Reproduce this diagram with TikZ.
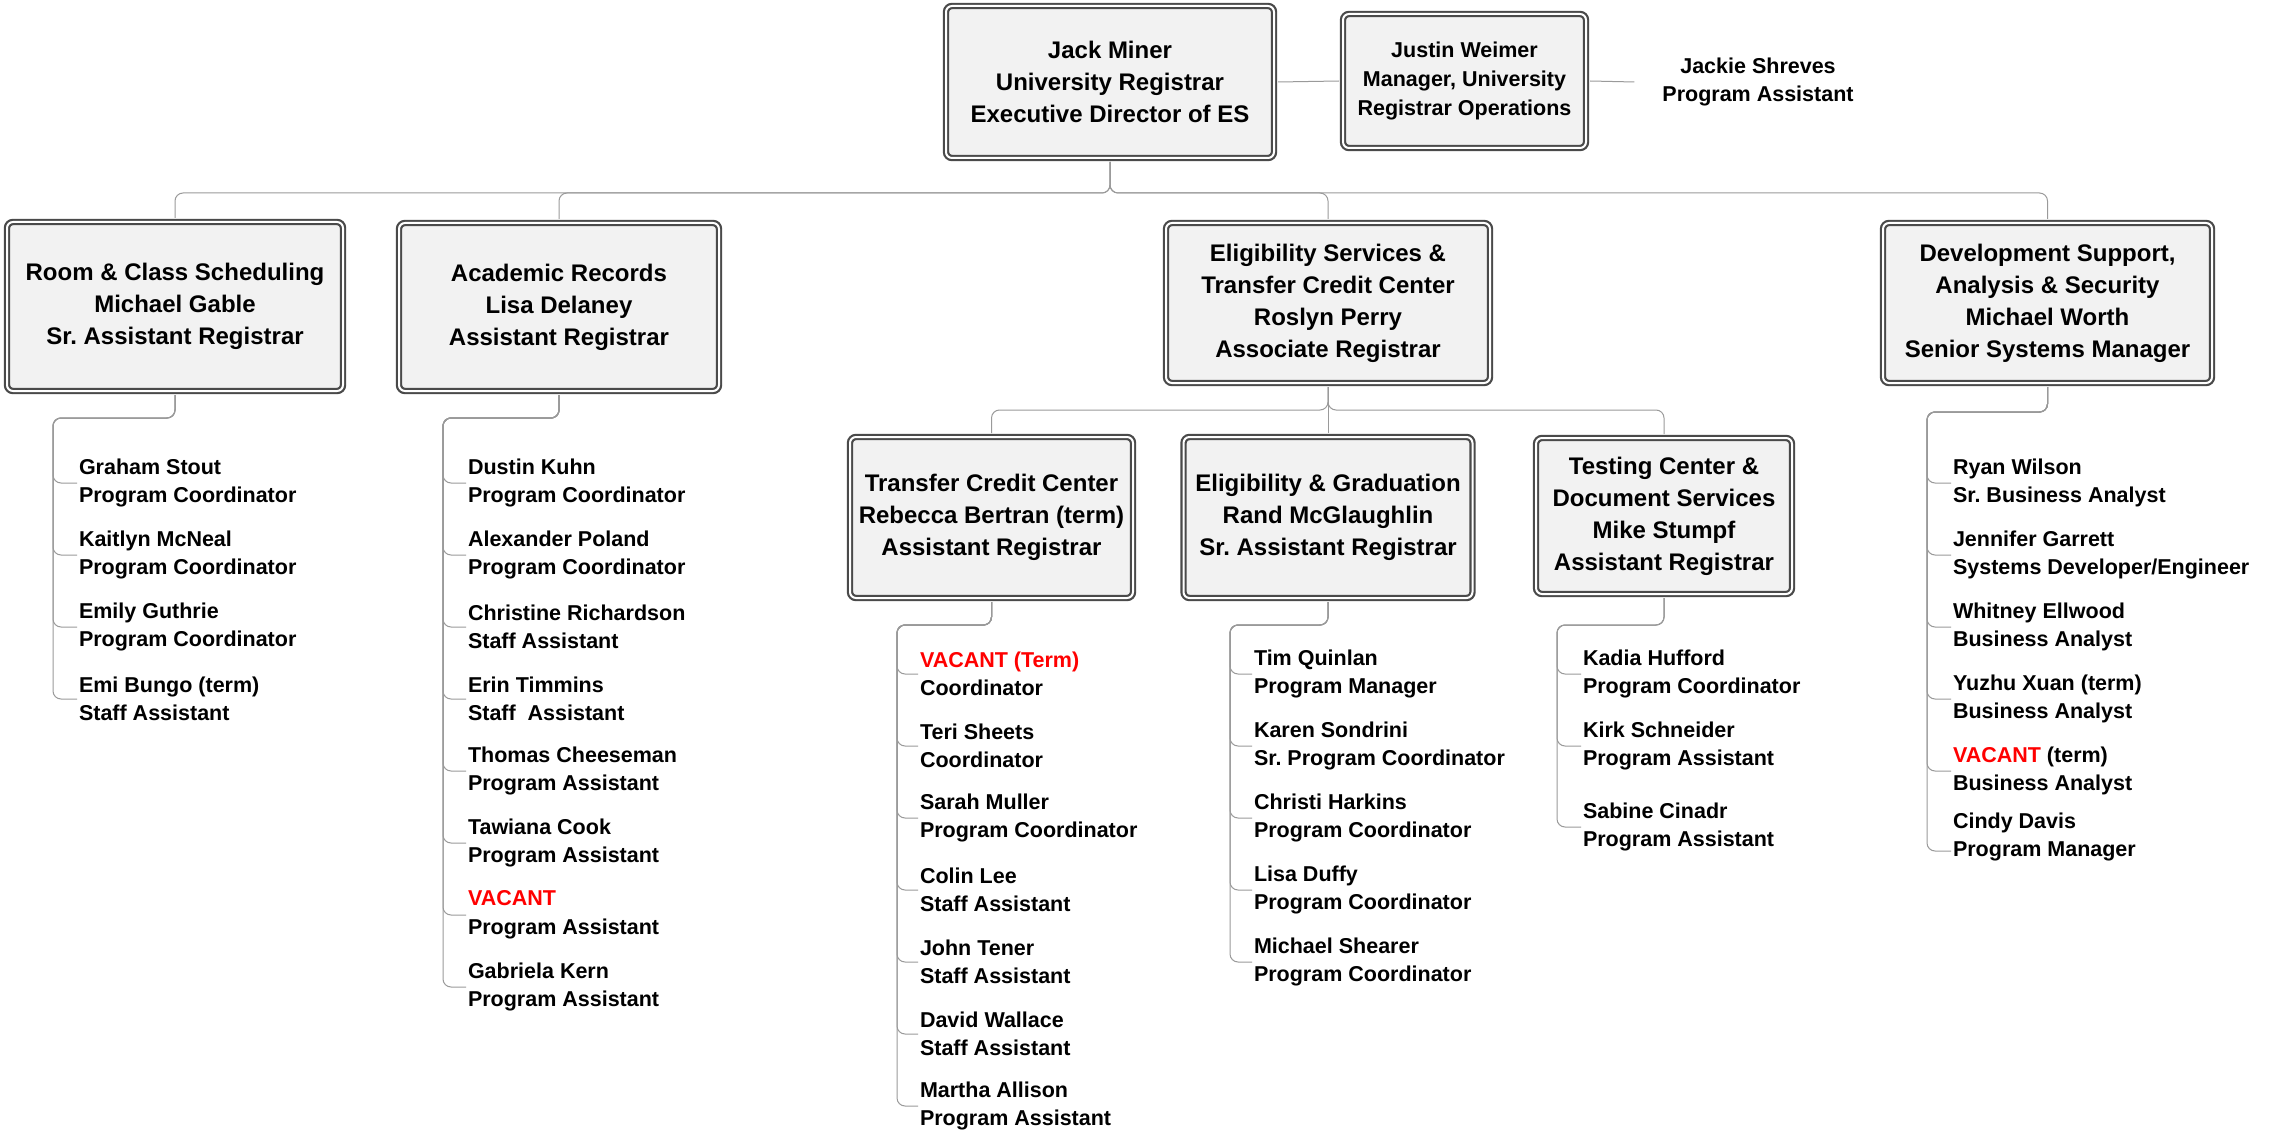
\documentclass[tikz,border=0pt]{standalone}
\usepackage{fontspec}
\setmainfont{Liberation Sans}
\frenchspacing
\definecolor{boxline}{HTML}{4A4A4A}
\definecolor{boxfill}{HTML}{F2F2F2}
\definecolor{linkgray}{HTML}{9A9A9A}
\definecolor{vacantred}{HTML}{FF0000}
\tikzset{
  unit/.style={draw=boxline, line width=2.2pt, double=white, double distance=2pt,
    fill=boxfill, rounded corners=6pt, align=center, inner sep=0pt, outer sep=4pt,
    font=\fontsize{24}{32}\selectfont\bfseries},
  staff/.style={align=left, anchor=west, inner xsep=2pt, inner ysep=0pt, outer sep=0pt,
    font=\fontsize{21.5}{28.5}\selectfont\bfseries},
  link/.style={draw=linkgray, line width=1pt, rounded corners=8pt},
}
\newcommand{\vac}[1]{\textcolor{vacantred}{#1}}
\begin{document}
\begin{tikzpicture}[x=1pt,y=-1pt]
\useasboundingbox[fill=white] (0,0) rectangle (2275,1139);
\node[unit, minimum width=328pt, minimum height=152pt] (jack) at (1110,82) {Jack Miner\\University Registrar\\Executive Director of ES};
\node[unit, minimum width=243pt, minimum height=134pt, font=\fontsize{21.5}{29}\selectfont\bfseries] (justin) at (1464.5,81) {Justin Weimer\\Manager, University\\Registrar Operations};
\node[staff, anchor=center, align=center, inner xsep=28pt] (jackie) at (1758,82) {Jackie Shreves\\Program Assistant};
\node[unit, minimum width=336pt, minimum height=169pt] (room) at (175,306.5) {Room \& Class Scheduling\\Michael Gable\\Sr. Assistant Registrar};
\node[unit, minimum width=320pt, minimum height=168pt] (acad) at (559,307) {Academic Records\\Lisa Delaney\\Assistant Registrar};
\node[unit, minimum width=324pt, minimum height=160pt] (elig) at (1328,303) {Eligibility Services \&\\Transfer Credit Center\\Roslyn Perry\\Associate Registrar};
\node[unit, minimum width=329pt, minimum height=160pt] (dev) at (2047.5,303) {Development Support,\\Analysis \& Security\\Michael Worth\\Senior Systems Manager};
\node[unit, minimum width=283pt, minimum height=161pt] (tcc) at (991.5,517.5) {Transfer Credit Center\\Rebecca Bertran (term)\\Assistant Registrar};
\node[unit, minimum width=289pt, minimum height=161pt] (grad) at (1328,517.5) {Eligibility \& Graduation\\Rand McGlaughlin\\Sr. Assistant Registrar};
\node[unit, minimum width=256pt, minimum height=156pt] (test) at (1664,516) {Testing Center \&\\Document Services\\Mike Stumpf\\Assistant Registrar};

\node[staff] (gstout) at (77,483) {Graham Stout\\Program Coordinator};
\node[staff] (kmcneal) at (77,555) {Kaitlyn McNeal\\Program Coordinator};
\node[staff] (eguthrie) at (77,627) {Emily Guthrie\\Program Coordinator};
\node[staff] (ebungo) at (77,699) {Emi Bungo (term)\\Staff Assistant};

\node[staff] (dkuhn) at (466,483) {Dustin Kuhn\\Program Coordinator};
\node[staff] (apoland) at (466,555) {Alexander Poland\\Program Coordinator};
\node[staff] (crichardson) at (466,627) {Christine Richardson\\Staff Assistant};
\node[staff] (etimmins) at (466,699) {Erin Timmins\\Staff\ \ Assistant};
\node[staff] (tcheeseman) at (466,771) {Thomas Cheeseman\\Program Assistant};
\node[staff] (tcook) at (466,843) {Tawiana Cook\\Program Assistant};
\node[staff] (acadvacant) at (466,915) {\vac{VACANT}\\Program Assistant};
\node[staff] (gkern) at (466,987) {Gabriela Kern\\Program Assistant};

\node[staff] (tccvacant) at (918,674) {\vac{VACANT (Term)}\\Coordinator};
\node[staff] (tsheets) at (918,746) {Teri Sheets\\Coordinator};
\node[staff] (smuller) at (918,818) {Sarah Muller\\Program Coordinator};
\node[staff] (clee) at (918,890) {Colin Lee\\Staff Assistant};
\node[staff] (jtener) at (918,962) {John Tener\\Staff Assistant};
\node[staff] (dwallace) at (918,1034) {David Wallace\\Staff Assistant};
\node[staff] (mallison) at (918,1106) {Martha Allison\\Program Assistant};

\node[staff] (tquinlan) at (1252,674) {Tim Quinlan\\Program Manager};
\node[staff] (ksondrini) at (1252,746) {Karen Sondrini\\Sr. Program Coordinator};
\node[staff] (charkins) at (1252,818) {Christi Harkins\\Program Coordinator};
\node[staff] (lduffy) at (1252,890) {Lisa Duffy\\Program Coordinator};
\node[staff] (mshearer) at (1252,962) {Michael Shearer\\Program Coordinator};

\node[staff] (khufford) at (1581,674) {Kadia Hufford\\Program Coordinator};
\node[staff] (kschneider) at (1581,746) {Kirk Schneider\\Program Assistant};
\node[staff] (scinadr) at (1581,827) {Sabine Cinadr\\Program Assistant};

\node[staff] (rwilson) at (1951,483) {Ryan Wilson\\Sr. Business Analyst};
\node[staff] (jgarrett) at (1951,555) {Jennifer Garrett\\Systems Developer/Engineer};
\node[staff] (wellwood) at (1951,627) {Whitney Ellwood\\Business Analyst};
\node[staff] (yxuan) at (1951,699) {Yuzhu Xuan (term)\\Business Analyst};
\node[staff] (devvacant) at (1951,771) {\vac{VACANT} (term)\\Business Analyst};
\node[staff] (cdavis) at (1951,837) {Cindy Davis\\Program Manager};

\coordinate (roombend) at (53,418);
\coordinate (acadbend) at (443,418);
\coordinate (tccbend) at (897,625);
\coordinate (gradbend) at (1230,625);
\coordinate (testbend) at (1557,625);
\coordinate (devbend) at (1927,412);

\draw[link] (jack.east) -- (justin.west);
\draw[link] (justin.east) -- (jackie.west);
\draw[link] (jack.south) -- ++(0,31) -| (room.north);
\draw[link] (jack.south) -- ++(0,31) -| (acad.north);
\draw[link] (jack.south) -- ++(0,31) -| (elig.north);
\draw[link] (jack.south) -- ++(0,31) -| (dev.north);
\draw[link] (elig.south) -- ++(0,23) -| (tcc.north);
\draw[link] (elig.south) -- (grad.north);
\draw[link] (elig.south) -- ++(0,23) -| (test.north);

\draw[link] (room.south) |- (roombend) |- (gstout.west);
\draw[link] (room.south) |- (roombend) |- (kmcneal.west);
\draw[link] (room.south) |- (roombend) |- (eguthrie.west);
\draw[link] (room.south) |- (roombend) |- (ebungo.west);

\draw[link] (acad.south) |- (acadbend) |- (dkuhn.west);
\draw[link] (acad.south) |- (acadbend) |- (apoland.west);
\draw[link] (acad.south) |- (acadbend) |- (crichardson.west);
\draw[link] (acad.south) |- (acadbend) |- (etimmins.west);
\draw[link] (acad.south) |- (acadbend) |- (tcheeseman.west);
\draw[link] (acad.south) |- (acadbend) |- (tcook.west);
\draw[link] (acad.south) |- (acadbend) |- (acadvacant.west);
\draw[link] (acad.south) |- (acadbend) |- (gkern.west);

\draw[link] (tcc.south) |- (tccbend) |- (tccvacant.west);
\draw[link] (tcc.south) |- (tccbend) |- (tsheets.west);
\draw[link] (tcc.south) |- (tccbend) |- (smuller.west);
\draw[link] (tcc.south) |- (tccbend) |- (clee.west);
\draw[link] (tcc.south) |- (tccbend) |- (jtener.west);
\draw[link] (tcc.south) |- (tccbend) |- (dwallace.west);
\draw[link] (tcc.south) |- (tccbend) |- (mallison.west);

\draw[link] (grad.south) |- (gradbend) |- (tquinlan.west);
\draw[link] (grad.south) |- (gradbend) |- (ksondrini.west);
\draw[link] (grad.south) |- (gradbend) |- (charkins.west);
\draw[link] (grad.south) |- (gradbend) |- (lduffy.west);
\draw[link] (grad.south) |- (gradbend) |- (mshearer.west);

\draw[link] (test.south) |- (testbend) |- (khufford.west);
\draw[link] (test.south) |- (testbend) |- (kschneider.west);
\draw[link] (test.south) |- (testbend) |- (scinadr.west);

\draw[link] (dev.south) |- (devbend) |- (rwilson.west);
\draw[link] (dev.south) |- (devbend) |- (jgarrett.west);
\draw[link] (dev.south) |- (devbend) |- (wellwood.west);
\draw[link] (dev.south) |- (devbend) |- (yxuan.west);
\draw[link] (dev.south) |- (devbend) |- (devvacant.west);
\draw[link] (dev.south) |- (devbend) |- ([yshift=-14pt]cdavis.west);
\end{tikzpicture}
\end{document}
